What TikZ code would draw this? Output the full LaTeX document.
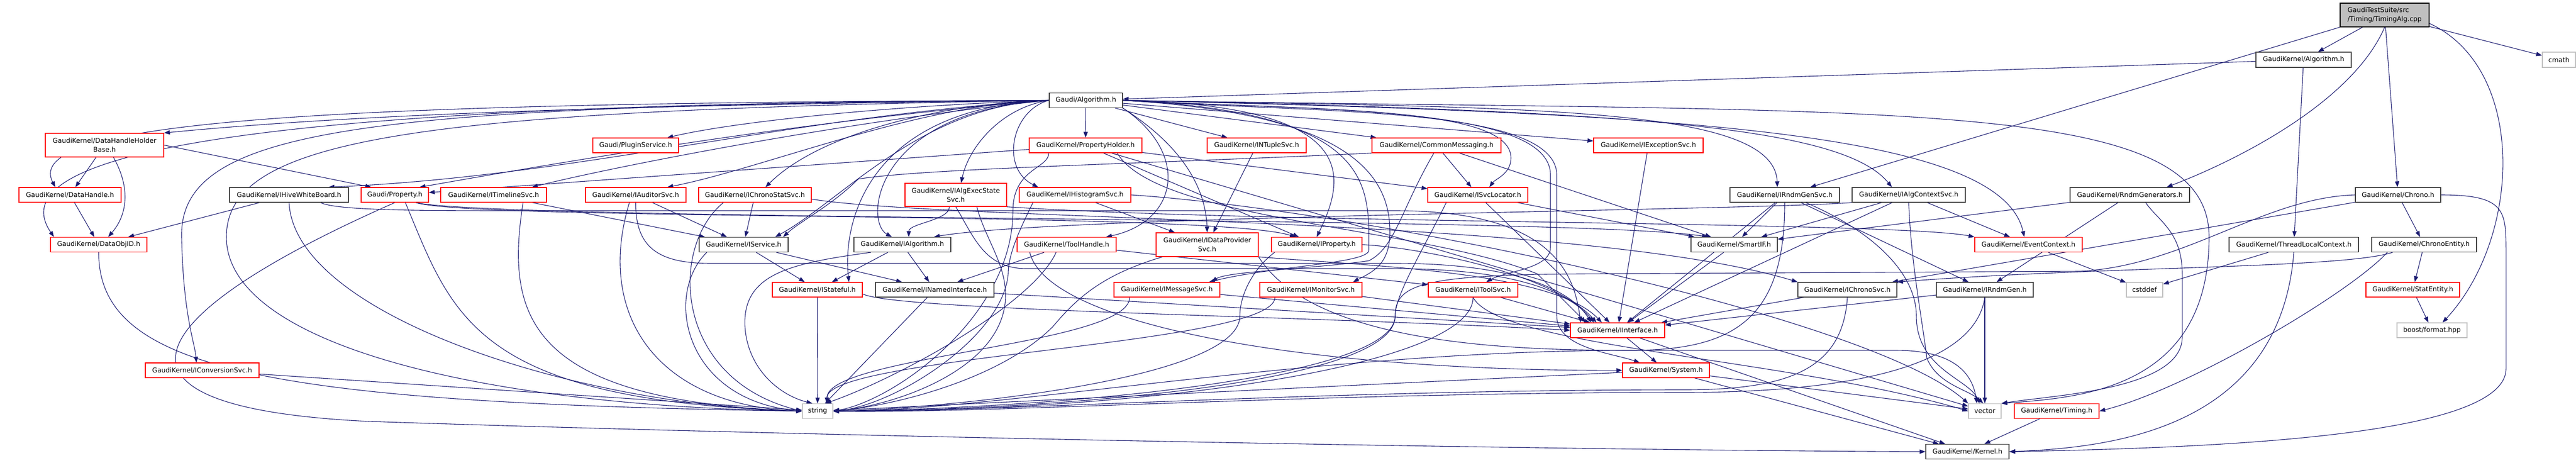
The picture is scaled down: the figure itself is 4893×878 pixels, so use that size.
\documentclass[tikz,border=0pt]{standalone}
\usepackage{fontspec}
\setmainfont{DejaVu Sans}
\usetikzlibrary{arrows.meta,calc}
\pgfdeclarelayer{bg}
\pgfsetlayers{bg,main}
\definecolor{edgec}{HTML}{191970}
\definecolor{gry}{HTML}{BFBFBF}
\definecolor{dk}{HTML}{404040}
\tikzset{
 box/.style={rectangle, inner sep=0pt, line width=1.3pt, fill=white, font=\fontsize{12.6pt}{16.7pt}\selectfont, text=black, align=center},
 nb/.style={box, draw=dk},
 nr/.style={box, draw=red},
 ng/.style={box, draw=gry},
 nt/.style={box, draw=black, fill=gry, align=left},
 e/.style={draw=edgec, line width=1.1pt, -{Triangle[length=11pt,width=8pt]}},
}
\newcommand\nodebox[6]{\node[#1, minimum width=#4pt, minimum height=#5pt] (#2) at (#3) {#6};}
\newcommand\EdgeC[2]{\draw[e] let \p1=(#1.south), \p2=(#2.north), \p3=(#1.south east), \p4=(#2.north east),
 \n1={max(10pt,0.45*((\y1)-(\y2)))},
 \n2={max(-0.7*((\x3)-(\x1)),min(0.7*((\x3)-(\x1)),0.12*((\x2)-(\x1))))},
 \n3={max(-0.6*((\x4)-(\x2)),min(0.6*((\x4)-(\x2)),0.12*((\x1)-(\x2))))}
 in ({\x1+(\n2)},\y1) .. controls ({\x1+(\n2)},{\y1-(\n1)}) and ({\x2+(\n3)},{\y2+(\n1)}) .. ({\x2+(\n3)},\y2);}
\newcommand\EdgeH[3]{\draw[e] let \p1=(#1.south), \p2=(#2.#3) in (\p1) .. controls (\x1,{\y1-0.6*((\y1)-(\y2))}) and ({\x2+0.5*((\x1)-(\x2))},\y2) .. (\p2);}
\newcommand\EdgeS[2]{\draw[e] (#1) -- (#2);}
\begin{document}
\begin{tikzpicture}[x=1pt,y=-1pt]
\useasboundingbox (0,0) rectangle (4893,878);
% nodes
\nodebox{nt}{tim}{4529.5,28.5}{169}{45}{GaudiTestSuite/src\\/Timing/TimingAlg.cpp}
\nodebox{nb}{galg}{4375.5,113.5}{181}{29}{GaudiKernel/Algorithm.h}
\nodebox{ng}{cmath}{4860.5,113.5}{63}{29}{cmath}
\nodebox{nb}{alg}{2062.5,190.5}{139}{28}{Gaudi/Algorithm.h}
\nodebox{nr}{dhhb}{198.5,275.5}{225}{45}{GaudiKernel/DataHandleHolder\\Base.h}
\nodebox{nr}{plug}{1207.5,276}{163}{28}{Gaudi/PluginService.h}
\nodebox{nr}{pholder}{2062,276}{214}{28}{GaudiKernel/PropertyHolder.h}
\nodebox{nr}{ntup}{2387,276}{188}{28}{GaudiKernel/INTupleSvc.h}
\nodebox{nr}{cmsg}{2728.5,276}{245}{28}{GaudiKernel/CommonMessaging.h}
\nodebox{nr}{iexc}{3131,276}{208}{28}{GaudiKernel/IExceptionSvc.h}
\nodebox{nr}{dh}{133,370}{194}{28}{GaudiKernel/DataHandle.h}
\nodebox{nb}{hive}{549,370}{226}{28}{GaudiKernel/IHiveWhiteBoard.h}
\nodebox{nr}{prop}{750,370}{128}{28}{Gaudi/Property.h}
\nodebox{nr}{tl}{937.5,370}{201}{28}{GaudiKernel/ITimelineSvc.h}
\nodebox{nr}{aud}{1207.5,370}{191}{28}{GaudiKernel/IAuditorSvc.h}
\nodebox{nr}{cstat}{1434,370}{214}{28}{GaudiKernel/IChronoStatSvc.h}
\nodebox{nr}{aes}{1815.5,370}{193}{44}{GaudiKernel/IAlgExecState\\Svc.h}
\nodebox{nr}{hist}{2042,370}{212}{28}{GaudiKernel/IHistogramSvc.h}
\nodebox{nr}{svcl}{2807,370}{190}{28}{GaudiKernel/ISvcLocator.h}
\nodebox{nb}{rgs}{3390,370}{208}{28}{GaudiKernel/IRndmGenSvc.h}
\nodebox{nb}{acs}{3625.5,370}{215}{28}{GaudiKernel/IAlgContextSvc.h}
\nodebox{nb}{rgen}{4045.5,370}{227}{28}{GaudiKernel/RndmGenerators.h}
\nodebox{nb}{chrono}{4555,370}{162}{28}{GaudiKernel/Chrono.h}
\nodebox{nr}{doid}{187.5,464.5}{183}{28}{GaudiKernel/DataObjID.h}
\nodebox{nb}{isvc}{1412.5,464.5}{169}{28}{GaudiKernel/IService.h}
\nodebox{nb}{ialg}{1714,464.5}{184}{28}{GaudiKernel/IAlgorithm.h}
\nodebox{nr}{th}{2026,464.5}{188}{28}{GaudiKernel/ToolHandle.h}
\nodebox{nr}{dps}{2293,464.5}{194}{45}{GaudiKernel/IDataProvider\\Svc.h}
\nodebox{nr}{iprop}{2501,464.5}{172}{28}{GaudiKernel/IProperty.h}
\nodebox{nb}{sif}{3294,464.5}{164}{28}{GaudiKernel/SmartIF.h}
\nodebox{nr}{ec}{3853,464.5}{204}{28}{GaudiKernel/EventContext.h}
\nodebox{nb}{tlc}{4357,464.5}{246}{28}{GaudiKernel/ThreadLocalContext.h}
\nodebox{nb}{ce}{4604.5,464.5}{199}{28}{GaudiKernel/ChronoEntity.h}
\nodebox{nr}{ist}{1552.5,550}{171}{28}{GaudiKernel/IStateful.h}
\nodebox{nb}{ini}{1775.5,550}{225}{28}{GaudiKernel/INamedInterface.h}
\nodebox{nr}{msg}{2216.5,550}{201}{28}{GaudiKernel/IMessageSvc.h}
\nodebox{nr}{mon}{2490,550}{194}{28}{GaudiKernel/IMonitorSvc.h}
\nodebox{nr}{tsvc}{2798,550}{170}{28}{GaudiKernel/IToolSvc.h}
\nodebox{nb}{ichr}{3509,550}{188}{28}{GaudiKernel/IChronoSvc.h}
\nodebox{nb}{irg}{3770,550}{184}{28}{GaudiKernel/IRndmGen.h}
\nodebox{ng}{cstddef}{4073.5,550}{69}{28}{cstddef}
\nodebox{nr}{stat}{4583,550}{178}{28}{GaudiKernel/StatEntity.h}
\nodebox{nr}{ii}{3072.5,627}{179}{28}{GaudiKernel/IInterface.h}
\nodebox{ng}{bfmt}{4619.5,627}{133}{28}{boost/format.hpp}
\nodebox{nr}{conv}{384,703}{216}{28}{GaudiKernel/IConversionSvc.h}
\nodebox{nr}{sys}{3164.5,703}{165}{28}{GaudiKernel/System.h}
\nodebox{ng}{str}{1553,780.5}{58}{28}{string}
\nodebox{ng}{vec}{3770,780.5}{62}{28}{vector}
\nodebox{nr}{timing}{3906.5,780.5}{161}{28}{GaudiKernel/Timing.h}
\nodebox{nb}{kern}{3737,857.5}{158}{28}{GaudiKernel/Kernel.h}
\begin{pgfonlayer}{bg}
\fill[white] (0,0) rectangle (4893,878);
% TimingAlg
\EdgeS{tim}{galg}
\EdgeS{tim}{cmath}
\EdgeS{tim}{chrono}
\draw[e] (tim.south west) -- (rgs);
\draw[e] (tim.south) .. controls (4470,190) and (4260,300) .. ([xshift=70pt]rgen.north);
\draw[e] ([yshift=-16pt]tim.east) .. controls (4800,130) and (4790,450) .. ([xshift=20pt]bfmt.north);
% GaudiKernel/Algorithm.h
\EdgeS{galg}{alg}
\EdgeS{galg}{tlc}
% Gaudi/Algorithm.h, to the left
\draw[e] (alg.west) .. controls (1200,200) and (700,215) .. (dhhb.north east);
\draw[e] (alg.west) .. controls (600,195) and (40,230) .. ([xshift=-28pt]dh.north);
\draw[e] (alg.west) .. controls (400,195) and (0,300) .. ([xshift=-85pt]doid.north);
\draw[e] (alg.west) .. controls (1500,220) and (1100,335) .. ([xshift=75pt]hive.north);
\draw[e] (alg.west) .. controls (1500,230) and (1000,320) .. ([xshift=47pt]prop.north);
\draw[e] (alg.west) .. controls (1600,230) and (1150,320) .. ([xshift=73pt]tl.north);
\draw[e] (alg.west) .. controls (1700,200) and (1400,230) .. ([xshift=60pt]plug.north);
\draw[e] (alg.west) .. controls (1750,195) and (1450,320) .. ([xshift=60pt]aud.north);
\draw[e] (alg.west) .. controls (1800,195) and (1560,250) .. ([xshift=20pt]cstat.north);
\draw[e] (alg.west) .. controls (1750,200) and (1600,380) .. ([xshift=60pt]isvc.north);
\draw[e] (alg.west) .. controls (700,200) and (340,240) .. (345,450) .. controls (348,600) and (370,650) .. ([xshift=-11pt]conv.north);
\draw[e] (alg.west) .. controls (800,210) and (430,260) .. (430,450) .. controls (430,650) and (900,770) .. (str.west);
\draw[e] (alg.west) .. controls (1900,205) and (1840,280) .. ([xshift=10pt]aes.north);
\draw[e] (alg.west) .. controls (1920,210) and (1900,320) .. ([xshift=-70pt]hist.north);
\draw[e] (alg.west) .. controls (1660,210) and (1640,420) .. ([xshift=-20pt]ialg.north);
\draw[e] (alg.west) .. controls (1650,205) and (1600,420) .. ([xshift=60pt]ist.north);
% Gaudi/Algorithm.h, downwards and to the right
\EdgeS{alg}{pholder}
\EdgeS{alg}{ntup}
\EdgeS{alg}{cmsg}
\EdgeS{alg}{iexc}
\draw[e] (alg.south east) .. controls (2260,290) and (2240,420) .. ([xshift=75pt]th.north);
\draw[e] (alg.south east) .. controls (2250,280) and (2290,360) .. (dps.north);
\draw[e] (alg.east) .. controls (2580,200) and (2560,330) .. (iprop.north);
\draw[e] (alg.east) .. controls (2570,210) and (2595,330) .. (2600,430) -- (2600,475) .. controls (2600,500) and (2420,505) .. ([xshift=80pt]msg.north);
\draw[e] (alg.east) .. controls (2560,215) and (2640,330) .. (2640,440) .. controls (2640,500) and (2610,515) .. ([xshift=80pt]mon.north);
\draw[e] (alg.east) .. controls (2500,210) and (2870,200) .. (2870,300) .. controls (2870,330) and (2840,340) .. ([xshift=22pt]svcl.north);
\draw[e] (alg.east) .. controls (2500,210) and (2940,200) .. (2945,330) -- (2945,470) .. controls (2945,510) and (2860,515) .. ([xshift=25pt]tsvc.north);
\draw[e] (alg.east) .. controls (2500,215) and (2950,200) .. (2957,330) -- (2957,600) .. controls (2957,660) and (3060,670) .. ([xshift=-50pt]sys.north);
\draw[e] (alg.east) .. controls (2900,205) and (3370,200) .. ([xshift=-14pt]rgs.north);
\draw[e] (alg.east) .. controls (3100,210) and (3500,240) .. ([xshift=-32pt]acs.north);
\draw[e] (alg.east) .. controls (3200,215) and (3800,250) .. ([xshift=-8pt]ec.north);
\draw[e] (alg.east) .. controls (3600,215) and (4196,180) .. (4196,450) .. controls (4196,740) and (3950,755) .. (vec.north east);
% DataHandleHolderBase, DataHandle, DataObjID
\EdgeS{dhhb}{dh}
\draw[e] ([xshift=17pt]dhhb.south) .. controls (250,360) and (240,410) .. ([xshift=18pt]doid.north);
\draw[e] (dhhb.east) -- ([xshift=-45pt]prop.north);
\EdgeS{dh}{doid}
\draw[e] (doid.south) .. controls (187,700) and (500,765) .. (str.west);
% IHiveWhiteBoard
\EdgeS{hive}{doid}
\draw[e] (hive.south) .. controls (560,600) and (1100,770) .. (str.west);
\draw[e] ([xshift=60pt]hive.south) .. controls (640,400) and (800,400) .. (1000,400) -- (2650,400) .. controls (2950,400) and (2990,520) .. ([xshift=-70pt]ii.north);
% Gaudi/Property
\draw[e] (prop.south) .. controls (350,560) and (80,770) .. (700,800) .. controls (1600,830) and (3000,855) .. (kern.west);
\draw[e] ([xshift=20pt]prop.south) .. controls (860,600) and (900,760) .. (str.west);
\draw[e] ([xshift=40pt]prop.south) .. controls (900,420) and (2300,400) .. ([xshift=-40pt]iprop.north);
\draw[e] ([xshift=40pt]prop.south) .. controls (950,420) and (3000,410) .. ([xshift=-50pt]sif.north);
% ITimelineSvc
\EdgeS{tl}{isvc}
\draw[e] ([xshift=56pt]tl.south) .. controls (960,600) and (1000,760) .. (str.west);
% IAuditorSvc
\EdgeS{aud}{isvc}
\draw[e] ([xshift=-12pt]aud.south) .. controls (1130,600) and (1250,770) .. (str.west);
\draw[e] (aud.south) .. controls (1207,470) and (1250,500) .. (1350,500) -- (2650,500) .. controls (2900,500) and (2990,560) .. ([xshift=-50pt]ii.north);
% IChronoStatSvc
\EdgeS{cstat}{isvc}
\draw[e] ([xshift=-60pt]cstat.south) .. controls (1270,470) and (1280,720) .. (str.west);
\draw[e] ([yshift=-8pt]cstat.east) .. controls (1800,420) and (3000,410) .. (ichr.north west);
% IAlgExecStateSvc
\EdgeC{aes}{ialg}
\draw[e] ([xshift=40pt]aes.south) .. controls (1870,450) and (1910,500) .. (1910,560) .. controls (1910,700) and (1700,770) .. (str.east);
\draw[e] (aes.south east) .. controls (2400,425) and (3600,420) .. (ec.north west);
\draw[e] (aes.south) .. controls (1850,450) and (1870,510) .. (1950,510) -- (2650,510) .. controls (2900,510) and (2990,565) .. ([xshift=-45pt]ii.north);
% IHistogramSvc
\EdgeS{hist}{dps}
\draw[e] ([xshift=-80pt]hist.south) .. controls (1940,430) and (1915,480) .. (1915,520) .. controls (1905,640) and (1700,770) .. (str.east);
\draw[e] (hist.east) .. controls (2600,400) and (3550,600) .. (vec.north west);
% PropertyHolder
\EdgeS{pholder}{prop}
\EdgeS{pholder}{iprop}
\draw[e] ([xshift=-70pt]pholder.south) .. controls (1992,320) and (1924,320) .. (1924,400) .. controls (1924,600) and (1700,760) .. (str.east);
\EdgeS{pholder}{svcl}
\draw[e] ([xshift=60pt]pholder.south) .. controls (2200,420) and (2700,430) .. (2920,520) .. controls (2960,560) and (2990,590) .. ([xshift=-60pt]ii.north);
\EdgeS{pholder}{vec}
% INTupleSvc
\EdgeS{ntup}{dps}
% CommonMessaging
\draw[e] (cmsg.south west) .. controls (2200,310) and (1750,320) .. (1630,340) .. controls (1580,390) and (1520,420) .. ([xshift=75pt]isvc.north);
\draw[e] ([xshift=-5pt]cmsg.south) .. controls (2660,400) and (2650,470) .. (2600,495) .. controls (2500,510) and (2330,515) .. ([xshift=85pt]msg.north);
\EdgeS{cmsg}{svcl}
\EdgeS{cmsg}{sif}
% ISvcLocator
\draw[e] ([xshift=-60pt]svcl.south) .. controls (2700,480) and (2650,560) .. (2650,600) .. controls (2650,720) and (2000,775) .. (str.east);
\EdgeS{svcl}{sif}
\EdgeS{svcl}{ii}
% IExceptionSvc
\EdgeS{iexc}{ii}
% IRndmGenSvc
\draw[e] (rgs.south) .. controls (3390,600) and (3300,665) .. (3100,665) .. controls (2500,665) and (1900,780) .. (str.east);
\EdgeS{rgs}{ii}
\EdgeS{rgs}{sif}
\EdgeS{rgs}{irg}
\draw[e] ([xshift=40pt]rgs.south) .. controls (3560,440) and (3640,520) .. (3640,600) .. controls (3640,700) and (3740,720) .. ([xshift=-10pt]vec.north);
% IAlgContextSvc
\draw[e] (acs.south west) .. controls (3300,400) and (2000,410) .. ([xshift=60pt]ialg.north);
\EdgeS{acs}{sif}
\EdgeS{acs}{ii}
\draw[e] (acs.south) .. controls (3630,500) and (3650,600) .. (3660,680) .. controls (3680,730) and (3740,740) .. ([xshift=-3pt]vec.north);
\EdgeS{acs}{ec}
% IConversionSvc
\EdgeS{conv}{str}
% IService, IAlgorithm
\draw[e] ([xshift=-70pt]isvc.south) .. controls (1260,560) and (1300,760) .. (str.west);
\EdgeS{isvc}{ist}
\EdgeS{isvc}{ini}
\draw[e] ([xshift=-60pt]ialg.south) .. controls (1500,500) and (1410,520) .. (1415,620) .. controls (1420,700) and (1480,750) .. ([xshift=-10pt]str.north);
\EdgeS{ialg}{ist}
\EdgeS{ialg}{ini}
% ToolHandle
\EdgeS{th}{ini}
\draw[e] ([xshift=-20pt]th.south) .. controls (1960,580) and (1700,720) .. ([xshift=15pt]str.north);
\EdgeS{th}{tsvc}
\draw[e] ([xshift=-70pt]th.south) .. controls (1990,620) and (2500,705) .. (sys.west);
% IDataProviderSvc, IProperty
\draw[e] ([xshift=-85pt]dps.south) .. controls (2100,520) and (2050,560) .. (2000,620) .. controls (1900,720) and (1700,770) .. (str.east);
\draw[e] (dps.south east) .. controls (2600,505) and (2950,515) .. ([xshift=-30pt]ii.north);
\draw[e] (dps.south east) .. controls (2500,660) and (2900,665) .. (3100,665) -- (3600,665) .. controls (3700,665) and (3745,700) .. ([xshift=-15pt]vec.north);
\draw[e] ([xshift=-80pt]iprop.south) .. controls (2380,510) and (2355,560) .. (2355,600) .. controls (2355,720) and (1800,775) .. (str.east);
\draw[e] (iprop.east) .. controls (2700,470) and (2950,520) .. ([xshift=-40pt]ii.north);
% EventContext
\EdgeS{ec}{cstddef}
% row 6
\EdgeS{ist}{str}
\draw[e] ([yshift=-8pt]ist.east) .. controls (1700,590) and (2500,600) .. (ii.west);
\EdgeS{ini}{str}
\EdgeS{ini}{ii}
\EdgeC{msg}{str}
\EdgeS{msg}{ii}
\EdgeC{mon}{str}
\EdgeS{mon}{ii}
\EdgeH{tsvc}{str}{east}
\EdgeS{tsvc}{ii}
\draw[e] (tsvc.south) .. controls (2850,660) and (3400,680) .. (vec.west);
\EdgeS{ichr}{ii}
\draw[e] (ichr.south) .. controls (3500,700) and (3400,740) .. (3200,740) .. controls (2500,740) and (1900,782) .. (str.east);
\EdgeS{irg}{ii}
\EdgeS{irg}{vec}
\draw[e] (irg.south) .. controls (3750,700) and (3500,745) .. (3200,745) .. controls (2500,745) and (1900,785) .. (str.east);
\EdgeS{sif}{ii}
% IInterface, System, Timing
\EdgeS{ii}{sys}
\EdgeS{ii}{kern}
\EdgeS{sys}{kern}
\EdgeS{sys}{vec}
\EdgeS{sys}{str}
\EdgeS{timing}{kern}
% ThreadLocalContext
\EdgeS{tlc}{cstddef}
\draw[e] (tlc.south) .. controls (4330,820) and (4000,850) .. (kern.east);
% RndmGenerators
\EdgeS{rgen}{sif}
\EdgeS{rgen}{irg}
\draw[e] ([xshift=30pt]rgen.south) .. controls (4100,420) and (4145,440) .. (4145,520) -- (4145,640) .. controls (4145,740) and (3900,750) .. (vec.north east);
% Chrono
\EdgeS{chrono}{ce}
\EdgeS{chrono}{ichr}
\draw[e] (chrono.west) .. controls (4300,375) and (4150,505) .. (3950,515) -- (3000,520) .. controls (2700,522) and (2650,540) .. (2650,600) .. controls (2650,740) and (1900,780) .. (str.east);
\draw[e] (chrono.east) .. controls (4760,370) and (4760,400) .. (4760,480) -- (4760,700) .. controls (4760,830) and (4200,850) .. (kern.east);
% ChronoEntity, StatEntity
\EdgeS{ce}{stat}
\draw[e] ([xshift=-60pt]ce.south) .. controls (4450,510) and (4000,505) .. (ichr.north east);
\draw[e] ([xshift=-70pt]ce.south) .. controls (4460,560) and (4150,740) .. (timing.east);
\EdgeS{stat}{bfmt}
\end{pgfonlayer}
\end{tikzpicture}
\end{document}
